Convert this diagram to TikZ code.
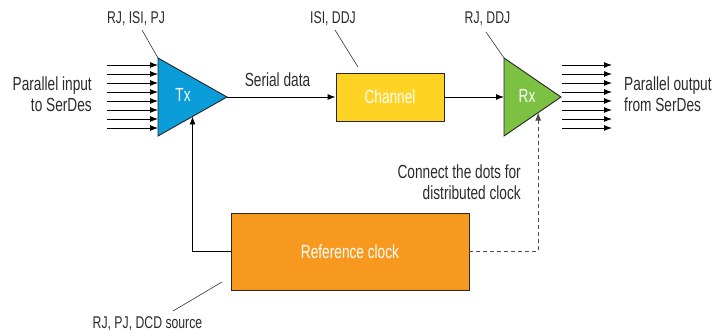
\documentclass[tikz,border=0pt]{standalone}
\usepackage{fontspec}
\setmainfont{Liberation Sans}[FakeStretch=0.72]
\usetikzlibrary{calc,arrows.meta}

\definecolor{txblue}{HTML}{0B9CDA}
\definecolor{chanyellow}{HTML}{FED323}
\definecolor{rxgreen}{HTML}{7DC143}
\definecolor{clkorange}{HTML}{F7991E}
\definecolor{txtgray}{HTML}{2B2B2B}

\tikzset{
  arr/.style={-{Latex[length=8pt,width=6pt]}, line width=0.9pt},
  lead/.style={line width=0.6pt, draw=black!80},
  lbl/.style={font=\fontsize{19pt}{21pt}\selectfont, text=txtgray, inner sep=0pt},
  tag/.style={font=\fontsize{17pt}{19pt}\selectfont, text=txtgray, inner sep=0pt},
  box/.style={draw=black!85, line width=0.9pt, inner sep=0pt},
  inlbl/.style={font=\fontsize{19pt}{21pt}\selectfont, text=white, inner sep=0pt},
}

\begin{document}
\begin{tikzpicture}[x=1pt,y=1pt]
\useasboundingbox (0,0) rectangle (716,335);

% Tx
\coordinate (txtl) at (158,277);
\coordinate (txbl) at (158,199);
\coordinate (txtip) at (227,238);
\filldraw [box,fill=txblue] (txtl) -- (txtip) -- (txbl) -- cycle;
\node [inlbl,anchor=base] (tx) at (183,233) {Tx};

% channel
\node [box,fill=chanyellow,minimum width=108pt,minimum height=48pt,
  font=\fontsize{19pt}{21pt}\selectfont,text=white] (chan) at (390,238) {Channel};

% Rx
\coordinate (rxtl) at (504,277);
\coordinate (rxbl) at (504,199);
\coordinate (rxtip) at (561,238);
\filldraw [box,fill=rxgreen] (rxtl) -- (rxtip) -- (rxbl) -- cycle;
\node [inlbl,anchor=base] (rx) at (527,232) {Rx};

% reference clock
\node [box,fill=clkorange,minimum width=238pt,minimum height=77pt,
  font=\fontsize{19pt}{21pt}\selectfont,text=white] (clk) at (350,83.5) {Reference clock};

% parallel lines
\foreach \k in {0,...,7}{
  \coordinate (in\k) at ($(txtl)!{(7+9*\k)/78}!(txbl)$);
  \draw [arr] ([xshift=-51pt]in\k) -- (in\k);
  \coordinate (out\k) at ([xshift=1pt]rxtip |- in\k);
  \draw [arr] (out\k) -- ++(50,0);
}
\node [lbl,anchor=base east,align=right] (inlbl) at (92,223) {Parallel input\\to SerDes};
\node [lbl,anchor=base west,align=left] (outlbl) at (624,223) {Parallel output\\from SerDes};

% serial path
\coordinate (rxin) at ($(rxtl)!0.5!(rxbl)$);
\draw [arr] (txtip) -- (chan.west);
\draw [arr] (chan.east) -- (rxin);
\node [lbl,anchor=base] (serial) at (277.5,248) {Serial data};

% clock paths
\coordinate (txclk) at ($(txbl)!0.5!(txtip)$);
\coordinate (rxclk) at ($(rxbl)!0.6!(rxtip)$);
\draw [arr] (clk.west) -| (txclk);
\draw [arr,dash pattern=on 4pt off 3pt,draw=black!70] (clk.east) -| (rxclk);
\node [lbl,anchor=base east,align=right] (dist) at (521,135) {Connect the dots for\\distributed clock};

% jitter tags
\node [tag,anchor=base] (txjit) at (136,311) {RJ, ISI, PJ};
\node [tag,anchor=base] (chanjit) at (333,311) {ISI, DDJ};
\node [tag,anchor=base] (rxjit) at (487.5,311) {RJ, DDJ};
\node [tag,anchor=base] (clkjit) at (147.5,6) {RJ, PJ, DCD source};
\coordinate (txjitend) at (142,305);
\coordinate (chanjitend) at (335,305);
\coordinate (chanjitpt) at (358,268);
\coordinate (rxjitend) at (486,303);
\coordinate (clkjitend) at (173,24);
\coordinate (clkjitpt) at (222,53);
\draw [lead] (txjitend) -- (txtl);
\draw [lead] (chanjitend) -- (chanjitpt);
\draw [lead] (rxjitend) -- (rxtl);
\draw [lead] (clkjitend) -- (clkjitpt);
\end{tikzpicture}
\end{document}
